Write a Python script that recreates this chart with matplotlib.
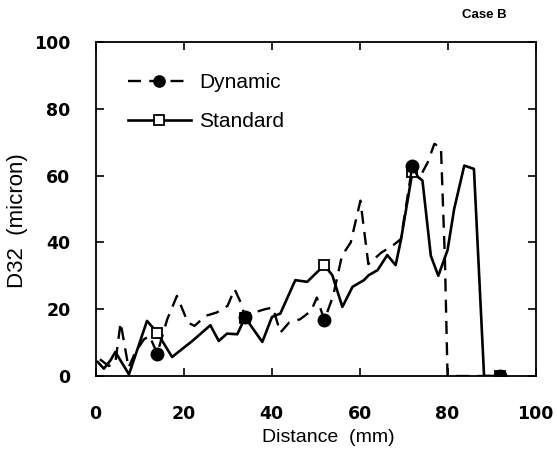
import numpy as np
import matplotlib
matplotlib.use("Agg")
import matplotlib.pyplot as plt

# ---- data ----
dyn_x = [1, 3, 4.5, 5.7, 7.5, 9, 11, 12.3, 14, 16.3, 18.5, 21, 22.5, 25, 27.5,
         30, 31.6, 33, 34, 36, 38.5, 40.3, 42, 44, 46.5, 49, 50.3, 52, 54,
         56, 58, 60.2, 62, 65, 67.5, 69.4, 72, 73.5, 75.5, 77, 78.5, 79.4, 80, 92]
dyn_y = [5, 3, 4, 16, 2.5, 7, 11, 12, 6.7, 17, 24, 16, 15, 18, 19,
         21, 26, 22, 17.7, 19, 20, 20.5, 13, 16, 17, 19.5, 23.5, 16.7, 24,
         36, 40, 52.5, 33.5, 37, 39, 41, 63, 59, 64, 69.5, 68.5, 35, 0, 0]

std_x = [0.5, 1.9, 3.4, 4.5, 7.6, 11.7, 14, 17.4, 22, 26.1, 28, 29.9, 32.2, 34,
         37.9, 40.1, 42, 45.4, 48.1, 52, 53.8, 56.1, 58.4, 61, 62.1, 64.1,
         66.3, 68.2, 69.4, 72, 74.3, 76.2, 77.9, 80, 81.5, 83.8, 86, 88.3, 92]
std_y = [4.2, 2.2, 4.7, 7.2, 0.5, 16.5, 13, 5.7, 10.5, 15.2, 10.5, 12.7, 12.5, 17.5,
         10.2, 17.7, 18.7, 28.7, 28.2, 33.2, 30.2, 20.7, 26.7, 28.7, 30.2, 31.7,
         36.2, 33.2, 40.7, 61, 58.5, 36, 30, 37.7, 50, 63, 62, 0, 0]

marker_x = [14, 34, 52, 72, 92]
x_ticks = [0, 20, 40, 60, 80, 100]
y_ticks = [0, 20, 40, 60, 80, 100]

dyn_marks = [i for i, v in enumerate(dyn_x) if v in marker_x]
std_marks = [i for i, v in enumerate(std_x) if v in marker_x]

fig = plt.figure(figsize=(5.57, 4.58), dpi=100)
ax = fig.add_axes([0.1715, 0.179, 0.790, 0.7293])

ax.plot(std_x, std_y, color="black", lw=1.9, marker="s", ms=7.5,
        mfc="white", mec="black", mew=1.3, markevery=std_marks,
        label="Standard", zorder=3)
ax.plot(dyn_x, dyn_y, color="black", lw=1.7, ls=(0, (5.5, 3.5)), marker="o",
        ms=9, mfc="black", mec="black", markevery=dyn_marks,
        label="Dynamic", zorder=4)

ax.set_xlim(0, 100)
ax.set_ylim(0, 100)
ax.set_xticks(x_ticks)
ax.set_yticks(y_ticks)
ax.tick_params(direction="in", length=6, width=1.2, top=True, right=True)
ax.tick_params(axis="x", pad=21)
ax.tick_params(axis="y", pad=18)
for lab in ax.get_xticklabels() + ax.get_yticklabels():
    lab.set_fontfamily("DejaVu Sans")
    lab.set_fontweight("bold")
    lab.set_fontsize(12.5)
for s in ax.spines.values():
    s.set_linewidth(1.3)

ax.set_xlabel("Distance  (mm)", fontfamily="Liberation Sans", fontsize=14)
ax.xaxis.set_label_coords(0.53, -0.16)
ax.set_ylabel("D32  (micron)", fontfamily="Liberation Sans", fontsize=16)
ax.yaxis.set_label_coords(-0.153, 0.465)

handles, labels = ax.get_legend_handles_labels()
leg = ax.legend(handles[::-1], labels[::-1], loc="upper left",
                bbox_to_anchor=(0.074, 0.906), frameon=False, borderpad=0,
                borderaxespad=0, handlelength=3.0, handletextpad=0.4,
                labelspacing=0.95, numpoints=1, markerscale=0.9,
                prop={"family": "Liberation Sans", "size": 15})

fig.text(484 / 557, 1 - 15 / 458, "Case B", ha="center", va="center",
         fontfamily="Liberation Sans", fontweight="bold", fontsize=9.5)

fig.savefig("out.png", dpi=100)
